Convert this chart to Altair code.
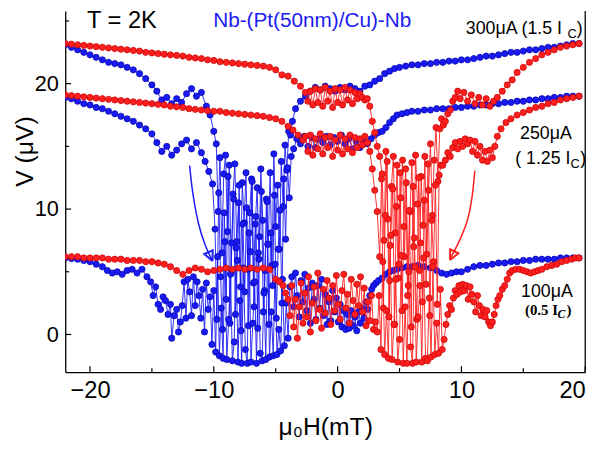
import altair as alt
import pandas as pd

# ---------------- data ----------------
# field (mT) and voltage (uV); blue and red are the two sweep directions
B300_X = [-22, -21.5, -21, -20.5, -20, -19.5, -19, -18.5, -18, -17.5, -17, -16.5, -16, -15.5, -15,
          -14.6, -14.2, -13.8, -13.4, -13.0, -12.6, -12.2, -11.8, -11.4, -11.0, -10.6, -10.3, -10.0,
          -9.8, -9.65, -9.5, -9.35, -9.2, -9.05, -8.9, -8.75, -8.6, -8.45, -8.3, -8.15, -8.0, -7.85,
          -7.7, -7.55, -7.4, -7.25, -7.1, -6.95, -6.8, -6.65, -6.5, -6.35, -6.2, -6.05, -5.9, -5.75,
          -5.6, -5.45, -5.3, -5.15, -5.0, -4.85, -4.7, -4.55, -4.4, -4.25, -4.1, -3.95, -3.8, -3.65,
          -3.4, -3.0, -2.6, -2.2, -1.8, -1.4, -1.0, -0.6, -0.2, 0.2, 0.6, 1.0, 1.4, 1.8, 2.2, 2.6,
          3.0, 3.4, 3.8, 4.2, 4.6, 5.0, 5.5, 6.0, 6.5, 7.0, 7.5, 8.0, 8.5, 9.0, 9.5, 10.0, 10.5,
          11.0, 11.5, 12.0, 12.5, 13.0, 13.5, 14.0, 14.5, 15.0, 15.5, 16.0, 16.5, 17.0, 17.5, 18.0,
          18.5, 19.0, 19.5]
B300_Y = [23.1, 22.9, 22.7, 22.5, 22.3, 22.1, 21.9, 21.7, 21.6, 21.5, 21.3, 21.1, 20.8, 20.4, 19.9,
          19.4, 18.7, 18.9, 18.4, 18.8, 18.5, 19.2, 19.6, 19.0, 19.3, 18.2, 17.5, 16.2,
          15.2, 9.8, 14.1, 6.5, 12.8, 14.3, 8.2, 13.5, 4.9, 11.2, 13.6, 7.4, 10.5, 3.8,
          12.1, 8.9, 12.9, 5.2, 9.7, 12.4, 4.1, 8.8, 11.7, 6.0, 13.2, 9.1, 3.5, 10.8,
          7.2, 12.9, 5.5, 14.4, 8.6, 11.9, 6.8, 13.8, 10.2, 15.1, 13.1, 16.2, 15.9, 17.0,
          18.0, 18.6, 19.0, 19.4, 19.7, 19.5, 19.8, 19.6, 19.4, 19.7, 19.5, 19.8, 19.6, 19.4, 19.8, 19.9,
          20.2, 20.4, 20.8, 21.0, 21.2, 21.3, 21.4, 21.5, 21.5, 21.6, 21.6, 21.7, 21.7, 21.8, 21.8, 21.9, 21.9,
          22.0, 22.1, 22.2, 22.2, 22.3, 22.4, 22.5, 22.5, 22.6, 22.7, 22.7, 22.8, 22.9, 22.9, 23.0,
          23.1, 23.2, 23.2]

B250_X = [-22, -21.5, -21, -20.5, -20, -19.5, -19, -18.5, -18, -17.5, -17, -16.5, -16, -15.5, -15,
          -14.6, -14.2, -13.8, -13.4, -13.0, -12.6, -12.2, -11.8, -11.4, -11.0, -10.7, -10.4, -10.1,
          -9.9, -9.75, -9.6, -9.45, -9.3, -9.15, -9.0, -8.85, -8.7, -8.55, -8.4, -8.25, -8.1, -7.95,
          -7.8, -7.65, -7.5, -7.35, -7.2, -7.05, -6.9, -6.75, -6.6, -6.45, -6.3, -6.15, -6.0, -5.85,
          -5.7, -5.55, -5.4, -5.25, -5.1, -4.95, -4.8, -4.65, -4.5, -4.35, -4.2, -4.05, -3.9, -3.75,
          -3.55, -3.3, -3.0, -2.7, -2.4, -2.1, -1.8, -1.5, -1.2, -0.9, -0.6, -0.3, 0.0, 0.3, 0.6, 0.9,
          1.2, 1.5, 1.8, 2.1, 2.4, 2.7, 3.0, 3.3, 3.6, 3.9, 4.2, 4.5, 4.8, 5.2, 5.6, 6.0, 6.5, 7.0,
          7.5, 8.0, 8.5, 9.0, 9.5, 10.0, 10.5, 11.0, 11.5, 12.0, 12.5, 13.0, 13.5, 14.0, 14.5, 15.0,
          15.5, 16.0, 16.5, 17.0, 17.5, 18.0, 18.5, 19.0, 19.5]
B250_Y = [18.9, 18.8, 18.6, 18.4, 18.3, 18.1, 18.0, 17.8, 17.6, 17.4, 17.2, 17.0, 16.7, 16.4, 16.0,
          15.3, 14.6, 15.0, 14.3, 14.7, 15.2, 15.5, 14.8, 15.3, 14.5, 13.8, 13.0, 12.0,
          8.4, 1.2, 11.3, 4.6, 0.4, 9.7, 2.8, 12.6, 0.9, 7.3, 10.8, 1.6, 5.9, 11.9,
          0.3, 8.8, 3.4, 10.1, 0.7, 6.6, 12.2, 2.2, 9.4, 0.5, 7.8, 11.4, 1.8, 5.1,
          10.6, 0.8, 8.1, 3.9, 11.1, 1.3, 6.8, 9.9, 2.5, 12.4, 7.6, 13.3, 10.9, 14.2,
          14.8, 15.6, 15.2, 15.8, 15.0, 15.7, 14.9, 15.6, 15.3, 15.8, 15.1, 15.7, 15.4, 15.9, 15.2, 15.6,
          14.8, 15.4, 14.9, 15.5, 15.2, 15.6, 15.9, 16.1, 16.2, 16.5, 16.9, 17.2, 17.5, 17.6, 17.7, 17.8,
          17.8, 17.9, 17.9, 18.0, 18.0, 18.0, 18.1, 18.1, 18.2, 18.2, 18.3, 18.3, 18.4, 18.4, 18.5, 18.5,
          18.6, 18.6, 18.7, 18.7, 18.8, 18.8, 18.9, 18.9, 19.0, 19.0, 19.0]

B100_X = [-22, -21.5, -21, -20.5, -20, -19.5, -19, -18.6, -18.2, -17.8, -17.4, -17.0, -16.6, -16.2,
          -15.8, -15.4, -15.1, -14.9, -14.7, -14.5, -14.3, -14.1, -13.9, -13.7, -13.5, -13.4, -13.2,
          -13.0, -12.85, -12.7, -12.55, -12.4, -12.25, -12.1, -11.95, -11.8, -11.65, -11.5, -11.35,
          -11.2, -11.05, -10.9, -10.75, -10.6, -10.45, -10.3,
          -10.15, -10.0, -9.85, -9.7, -9.55, -9.4, -9.25, -9.1, -8.95, -8.8, -8.65, -8.5, -8.35,
          -8.2, -8.05, -7.9, -7.75, -7.6, -7.45, -7.3, -7.15, -7.0, -6.85, -6.7, -6.55, -6.4, -6.25,
          -6.1, -5.95, -5.8, -5.65, -5.5, -5.35, -5.2, -5.05, -4.9, -4.75, -4.6, -4.45, -4.3, -4.15,
          -4.0, -3.85,
          -3.7, -3.55, -3.4, -3.25, -3.1, -2.95, -2.8, -2.65, -2.5, -2.35, -2.2, -2.05, -1.9, -1.75,
          -1.6, -1.45, -1.3, -1.15, -1.0, -0.85, -0.7, -0.55, -0.4, -0.25, -0.1, 0.05, 0.2, 0.35,
          0.5, 0.65, 0.8, 0.95, 1.1, 1.25, 1.4, 1.55, 1.7, 1.85, 2.0, 2.15, 2.3, 2.45, 2.6, 2.75,
          2.9, 3.1, 3.3, 3.6, 3.9, 4.2, 4.5, 4.8, 5.2, 5.6, 6.0, 6.5, 7.0, 7.5, 8.0, 8.4, 8.8, 9.2,
          9.6, 10.0, 10.5, 11.0, 11.5, 12.0, 12.5, 13.0, 13.5, 14.0, 14.5, 15.0, 15.5, 16.0, 16.5,
          17.0, 17.5, 18.0, 18.5, 19.0, 19.5]
B100_Y = [6.1, 6.05, 6.0, 5.9, 5.8, 5.6, 5.4, 5.1, 4.9, 5.0, 4.8, 5.1, 5.2, 4.9,
          5.2, 4.6, 4.2, 3.1, 3.8, 2.4, 2.0, 3.0, 2.7, 1.6, 2.4, -0.3, 1.5,
          2.0, 0.2, 1.0, 2.3, 4.2, 1.3, 4.4, 3.4, 1.5, 4.6, 2.3, 4.2,
          3.1, 1.3, 3.6, 0.2, 4.1, 2.0, 3.0,
          -0.8, 3.5, -1.4, 6.2, -1.7, 2.1, -1.9, 7.4, -2.0, 1.2, 4.8, -2.1, -0.6,
          6.9, -2.2, 2.7, -2.3, 5.3, -1.2, -2.3, 8.1, -2.2, 0.9, 4.2, -2.3, 6.5, -1.5,
          -2.1, 3.3, -2.0, 7.2, -1.8, 1.8, -1.7, 5.6, -1.6, 0.4, -1.3, 4.4, -0.9, 2.5,
          -0.3, 3.8,
          4.6, 2.2, 4.9, 3.1, 1.4, 4.3, 2.6, 4.8, 1.9, 3.7, 0.9, 4.1, 2.8, 1.2,
          3.9, 2.1, 4.4, 1.5, 3.2, 0.8, 2.6, 1.1, 3.5, 1.8, 2.9, 1.0, 2.4, 0.6,
          1.9, 0.4, 1.6, 0.5, 1.9, 0.7, 1.4, 0.3, 1.8, 0.9, 2.1, 1.3, 2.6, 2.0, 3.1, 3.6,
          3.9, 4.1, 4.3, 4.5, 4.8, 5.0, 5.1, 5.2, 5.3, 5.4, 5.4, 5.5, 5.4, 5.3, 5.1, 4.9, 4.8, 4.9,
          5.0, 5.0, 5.2, 5.4, 5.5, 5.5, 5.6, 5.7, 5.7, 5.8, 5.8, 5.9, 5.9, 6.0, 6.0,
          6.0, 6.0, 6.1, 6.1, 6.1, 6.1]

R300_X = [-22, -21.5, -21, -20.5, -20, -19.5, -19, -18.5, -18, -17.5, -17, -16.5, -16, -15.5, -15,
          -14.5, -14, -13.5, -13, -12.5, -12, -11.5, -11, -10.5, -10, -9.5, -9, -8.5, -8, -7.5,
          -7, -6.5, -6, -5.5, -5, -4.5, -4, -3.5, -3,
          -2.6, -2.4, -2.2, -2.0, -1.8, -1.6, -1.4, -1.2, -1.0, -0.8, -0.6, -0.4, -0.2, 0.0, 0.2,
          0.4, 0.6, 0.8, 1.0, 1.2, 1.4, 1.6, 1.8, 2.0, 2.2, 2.4, 2.6, 2.8, 3.0, 3.2, 3.4,
          3.6, 3.75, 3.9, 4.05, 4.2, 4.35, 4.5, 4.65, 4.8, 4.95, 5.1, 5.25, 5.4, 5.55, 5.7, 5.85,
          6.0, 6.15, 6.3, 6.45, 6.6, 6.75, 6.9, 7.05, 7.2, 7.35, 7.5, 7.65, 7.8, 7.95, 8.1, 8.25,
          8.4, 8.55,
          8.7, 8.9, 9.1, 9.3, 9.5, 9.7, 9.9, 10.2, 10.5, 10.8, 11.1, 11.4, 11.7, 12.0, 12.3, 12.6,
          12.9, 13.3, 13.7, 14.1, 14.5, 15.0, 15.5, 16.0, 16.5, 17.0, 17.5, 18.0, 18.5, 19.0, 19.5]
R300_Y = [23.2, 23.15, 23.1, 23.05, 23.0, 22.95, 22.9, 22.85, 22.8, 22.75, 22.7, 22.65, 22.6, 22.5, 22.45,
          22.4, 22.35, 22.3, 22.25, 22.2, 22.1, 22.05, 22.0, 21.9, 21.85, 21.75, 21.7, 21.65, 21.6, 21.55,
          21.5, 21.45, 21.4, 21.3, 21.1, 20.7, 20.6, 20.2, 19.8,
          19.3, 18.6, 19.4, 18.3, 19.6, 18.5, 19.5, 18.2, 19.7, 18.6, 19.4, 18.1, 19.6, 18.5, 19.5,
          18.3, 19.7, 18.7, 19.5, 18.4, 19.3, 18.8, 19.2, 18.9, 18.7, 18.8, 18.2, 17.0, 16.1, 15.0, 14.2,
          12.8, 7.5, 14.6, 9.2, 4.3, 11.8, 14.2, 8.1, 13.5, 5.6, 10.9, 13.9, 6.2, 12.1, 3.9, 9.8,
          13.7, 7.0, 14.3, 10.4, 5.1, 12.6, 8.7, 14.2, 6.4, 11.5, 15.2, 9.5, 13.9, 16.5, 12.2, 16.4,
          17.2, 16.7,
          17.0, 17.6, 17.9, 18.6, 18.9, 19.4, 18.8, 19.3, 18.6, 19.1, 18.4, 18.9, 18.3, 18.8, 18.2, 18.6,
          18.9, 19.4, 19.9, 20.3, 20.9, 21.3, 21.7, 22.0, 22.3, 22.5, 22.7, 22.9, 23.0, 23.1, 23.2]

R250_X = [-22, -21.5, -21, -20.5, -20, -19.5, -19, -18.5, -18, -17.5, -17, -16.5, -16, -15.5, -15,
          -14.5, -14, -13.5, -13, -12.5, -12, -11.5, -11, -10.5, -10, -9.5, -9, -8.5, -8, -7.5,
          -7, -6.5, -6, -5.5, -5, -4.5, -4, -3.6, -3.2, -2.8,
          -2.6, -2.4, -2.2, -2.0, -1.8, -1.6, -1.4, -1.2, -1.0, -0.8, -0.6, -0.4, -0.2, 0.0, 0.2,
          0.4, 0.6, 0.8, 1.0, 1.2, 1.4, 1.6, 1.8, 2.0, 2.2, 2.4, 2.6, 2.8, 3.0, 3.2,
          3.4, 3.55, 3.7, 3.85, 4.0, 4.15, 4.3, 4.45, 4.6, 4.75, 4.9, 5.05, 5.2, 5.35, 5.5, 5.65,
          5.8, 5.95, 6.1, 6.25, 6.4, 6.55, 6.7, 6.85, 7.0, 7.15, 7.3, 7.45, 7.6, 7.75, 7.9, 8.05,
          8.2, 8.35,
          8.5, 8.7, 8.9, 9.1, 9.3, 9.5, 9.7, 9.9, 10.1, 10.3, 10.5, 10.7, 10.9, 11.1, 11.3, 11.5,
          11.7, 11.9, 12.1, 12.3, 12.5, 12.7, 12.9, 13.2, 13.6, 14.0, 14.5, 15.0, 15.5, 16.0, 16.5,
          17.0, 17.5, 18.0, 18.5, 19.0, 19.5]
R250_Y = [19.1, 19.05, 19.0, 18.95, 18.9, 18.85, 18.8, 18.75, 18.7, 18.65, 18.6, 18.55, 18.5, 18.45, 18.4,
          18.35, 18.3, 18.2, 18.15, 18.1, 18.0, 17.95, 17.9, 17.85, 17.8, 17.8, 17.7, 17.65, 17.6, 17.55,
          17.5, 17.45, 17.4, 17.3, 17.2, 17.0, 16.6, 16.3, 15.9, 15.5,
          15.8, 14.6, 15.9, 14.3, 15.6, 14.8, 16.0, 14.4, 15.7, 14.9, 15.8, 14.2, 15.5, 14.7, 15.9,
          14.4, 15.6, 14.8, 15.9, 14.5, 15.7, 14.9, 15.6, 15.1, 15.8, 15.3, 14.6, 13.2, 11.5, 9.8,
          6.2, 12.4, 2.1, 9.5, 13.8, 1.4, 7.9, 11.6, 0.8, 10.2, 4.5, 12.9, 1.9, 8.6, 13.2, 3.1,
          9.9, 0.6, 11.8, 5.4, 1.2, 12.5, 7.3, 2.6, 10.7, 4.0, 13.6, 1.5, 9.1, 5.8, 11.9, 2.4,
          12.7, 13.5,
          13.5, 13.9, 14.5, 14.2, 14.9, 15.3, 14.8, 15.4, 15.0, 15.6, 15.2, 15.5, 14.6, 15.4, 14.3, 15.0,
          13.9, 14.6, 13.8, 14.7, 14.1, 15.0, 15.8, 16.4, 16.9, 17.2, 17.5, 17.7, 17.9, 18.1, 18.2,
          18.4, 18.5, 18.7, 18.8, 18.9, 19.0]

R100_X = [-22, -21.5, -21, -20.5, -20, -19.5, -19, -18.5, -18, -17.5, -17, -16.5, -16, -15.5, -15,
          -14.5, -14, -13.5, -13, -12.5, -12, -11.5, -11, -10.5, -10, -9.5, -9, -8.5, -8, -7.5,
          -7, -6.5, -6, -5.5, -5.0, -4.7, -4.4, -4.2, -4.0,
          -3.85, -3.7, -3.55, -3.4, -3.25, -3.1, -2.95, -2.8, -2.65, -2.5, -2.35, -2.2, -2.05, -1.9,
          -1.75, -1.6, -1.45, -1.3, -1.15, -1.0, -0.85, -0.7, -0.55, -0.4, -0.25, -0.1, 0.05, 0.2,
          0.35, 0.5, 0.65, 0.8, 0.95, 1.1, 1.25, 1.4, 1.55, 1.7, 1.85, 2.0, 2.15, 2.3, 2.45, 2.6,
          2.75, 2.9, 3.05,
          3.2, 3.35, 3.5, 3.65, 3.8, 3.95, 4.1, 4.25, 4.4, 4.55, 4.7, 4.85, 5.0, 5.15, 5.3, 5.45,
          5.6, 5.75, 5.9, 6.05, 6.2, 6.35, 6.5, 6.65, 6.8, 6.95, 7.1, 7.25, 7.4, 7.55, 7.7, 7.85,
          8.0, 8.15, 8.3, 8.45, 8.6,
          8.75, 8.9, 9.05, 9.2, 9.35, 9.5, 9.65, 9.8, 9.95, 10.1, 10.25, 10.4, 10.55, 10.7, 10.85,
          11.0, 11.15, 11.3, 11.45, 11.6, 11.75, 11.9, 12.05, 12.2, 12.35, 12.5, 12.65, 12.8, 12.95,
          13.1, 13.3, 13.5, 13.7, 13.9, 14.1, 14.4, 14.7, 15.0, 15.3, 15.6, 15.9, 16.2, 16.5, 16.9,
          17.3, 17.7, 18.1, 18.5, 18.9, 19.2, 19.5]
R100_Y = [6.2, 6.2, 6.2, 6.1, 6.1, 6.1, 6.1, 6.0, 6.0, 6.0, 5.9, 5.9, 5.9, 5.8, 5.8,
          5.7, 5.6, 5.4, 5.1, 4.8, 5.1, 5.3, 5.2, 5.0, 5.1, 5.2, 5.3, 5.2, 5.3, 5.2,
          5.3, 5.2, 5.3, 5.2, 4.4, 4.2, 3.9, 3.3, 2.8,
          1.5, 3.9, 0.6, 2.8, -0.3, 2.2, 4.1, 0.9, 3.3, 1.4, 4.6, 0.2, 2.5, 3.8,
          1.1, 4.9, 2.0, 0.5, 3.6, 1.7, 4.3, 2.9, 0.8, 3.9, 1.9, 4.7, 2.4, 1.2,
          3.5, 4.8, 2.1, 3.2, 0.9, 4.4, 2.7, 1.6, 4.0, 2.3, 4.6, 1.8, 3.7, 0.7, 2.6, 1.1,
          3.1, 0.4, 1.0,
          0.2, 3.1, -1.2, 5.8, -1.6, 1.9, -1.9, 7.1, -2.0, 0.8, 4.4, -2.2, -0.4, 6.3, -2.3, 2.2,
          -2.3, 5.0, -1.0, -2.3, 7.7, -2.2, 1.4, 3.9, -2.2, 6.1, -1.9, -2.1, 2.9, -1.8, 5.4, -1.6,
          0.9, -1.5, 3.6, -1.2, -0.4,
          0.8, 1.6, 2.3, 2.0, 2.9, 3.5, 3.2, 3.9, 3.4, 4.0, 3.5, 3.9, 2.8, 3.8, 3.2,
          2.6, 1.8, 3.1, 2.3, 1.5, 2.0, 1.4, 1.9, 1.0, 0.7, 1.0, 1.6, 2.3, 2.8,
          3.1, 3.6, 3.9, 4.4, 4.9, 5.1, 5.2, 5.2, 5.1, 5.0, 4.9, 5.0, 5.1, 5.2, 5.4,
          5.5, 5.6, 5.8, 5.9, 6.0, 6.1, 6.1]

# curved arrows (field, voltage along the arrow) and their heads (tip, barb, barb, tip)
ARROW_B_X = [-11.95, -11.69, -11.24, -10.71, -10.10]
ARROW_B_Y = [13.46, 11.24, 8.87, 7.17, 5.85]
HEAD_B_X = [-10.10, -10.09, -10.77, -10.10]
HEAD_B_Y = [5.85, 6.72, 6.41, 5.85]
ARROW_R_X = [11.08, 10.86, 10.49, 9.88, 9.21, 9.08]
ARROW_R_Y = [13.07, 10.97, 9.13, 7.56, 6.24, 5.93]
HEAD_R_X = [9.08, 9.75, 9.09, 9.08]
HEAD_R_Y = [5.93, 6.47, 6.79, 5.93]

X_MAJOR = [-20, -10, 0, 10, 20]
X_MINOR = [-15, -5, 5, 15]
Y_MAJOR = [0, 10, 20]
Y_MINOR = [5, 15, 25]

BLUE, BLUE_EDGE = "#1a1af5", "#0000a8"
RED, RED_EDGE = "#ff1f1f", "#c40000"

W, H = 527, 366
X_DOM = [-22, 20]
Y_DOM = [-3.0, 25.8]
FONT = "Liberation Sans"


def curve(name, xs, ys, fill, edge):
    if len(xs) != len(ys):
        raise ValueError(f"{name}: {len(xs)} x vs {len(ys)} y")
    return pd.DataFrame({"x": xs, "y": ys, "curve": name, "fill": fill,
                         "edge": edge, "i": list(range(len(xs)))})


blue = pd.concat([curve("b300", B300_X, B300_Y, BLUE, BLUE_EDGE),
                  curve("b250", B250_X, B250_Y, BLUE, BLUE_EDGE),
                  curve("b100", B100_X, B100_Y, BLUE, BLUE_EDGE)])
red = pd.concat([curve("r300", R300_X, R300_Y, RED, RED_EDGE),
                 curve("r250", R250_X, R250_Y, RED, RED_EDGE),
                 curve("r100", R100_X, R100_Y, RED, RED_EDGE)])

xs = alt.Scale(domain=X_DOM, nice=False, zero=False)
ys = alt.Scale(domain=Y_DOM, nice=False, zero=False)

x_axis = alt.Axis(values=X_MAJOR, ticks=False, tickSize=0, grid=False, format="d",
                  labelFont=FONT, labelFontSize=24, labelColor="black", labelPadding=7,
                  domainColor="black", domainWidth=1.3,
                  title="μ₀H(mT)", titleFont=FONT, titleFontSize=25, titleFontWeight="normal",
                  titleColor="black", titlePadding=12)
y_axis = alt.Axis(values=Y_MAJOR, ticks=False, tickSize=0, grid=False, format="d",
                  labelFont=FONT, labelFontSize=22, labelColor="black", labelPadding=7,
                  domainColor="black", domainWidth=1.3,
                  title="V (μV)", titleFont=FONT, titleFontSize=25, titleFontWeight="normal",
                  titleColor="black", titleAngle=270, titleAlign="center",
                  titleBaseline="middle", titleX=-41, titleY=142)


def data_layers(df):
    base = alt.Chart(df)
    line = base.mark_line(strokeWidth=1, clip=True, opacity=0.9).encode(
        x=alt.X("x:Q", scale=xs, axis=x_axis),
        y=alt.Y("y:Q", scale=ys, axis=y_axis),
        detail="curve:N", order="i:Q",
        color=alt.Color("fill:N", scale=None))
    pts = base.mark_circle(size=40, opacity=1, strokeWidth=0.7, clip=True).encode(
        x=alt.X("x:Q", scale=xs), y=alt.Y("y:Q", scale=ys),
        fill=alt.Fill("fill:N", scale=None), stroke=alt.Stroke("edge:N", scale=None))
    return [line, pts]


def ticks(values, length, axis):
    df = pd.DataFrame({"v": values})
    if axis == "x":
        return alt.Chart(df).mark_rule(color="black", strokeWidth=1.2).encode(
            x=alt.X("v:Q", scale=xs), y=alt.value(H), y2=alt.value(H - length))
    return alt.Chart(df).mark_rule(color="black", strokeWidth=1.2).encode(
        y=alt.Y("v:Q", scale=ys), x=alt.value(0), x2=alt.value(length))


def arrow(xv, yv, hx, hy, color):
    df = pd.DataFrame({"x": xv, "y": yv, "i": list(range(len(xv)))})
    ln = alt.Chart(df).mark_line(color=color, strokeWidth=1.5, interpolate="cardinal").encode(
        x=alt.X("x:Q", scale=xs), y=alt.Y("y:Q", scale=ys), order="i:Q")
    hdf = pd.DataFrame({"x": hx, "y": hy, "i": list(range(len(hx)))})
    hd = alt.Chart(hdf).mark_line(color=color, strokeWidth=2, strokeJoin="miter").encode(
        x=alt.X("x:Q", scale=xs), y=alt.Y("y:Q", scale=ys), order="i:Q")
    return [ln, hd]


def label(text, px, py, size=18, color="black", font=FONT, weight="normal",
          baseline="alphabetic", style="normal"):
    return alt.Chart(pd.DataFrame({"t": [text]})).mark_text(
        align="left", baseline=baseline, font=font, fontSize=size, fontWeight=weight,
        fontStyle=style, color=color).encode(
        x=alt.value(px), y=alt.value(py), text="t:N")


frame_right = alt.Chart(pd.DataFrame({"a": [0]})).mark_rule(
    color="black", strokeWidth=1.3).encode(x=alt.value(W), y=alt.value(0), y2=alt.value(H))

layers = (data_layers(blue) + data_layers(red)
          + arrow(ARROW_B_X, ARROW_B_Y, HEAD_B_X, HEAD_B_Y, BLUE)
          + arrow(ARROW_R_X, ARROW_R_Y, HEAD_R_X, HEAD_R_Y, RED)
          + [ticks(X_MAJOR, 6, "x"), ticks(X_MINOR, 4, "x"),
             ticks(Y_MAJOR, 6, "y"), ticks(Y_MINOR, 4, "y"), frame_right,
             label("T = 2K", 22, 10, size=24, baseline="middle"),
             label("Nb-(Pt(50nm)/Cu)-Nb", 150, 10, size=21, color="#1c1cf0", baseline="middle"),
             label("300μA (1.5 I", 406, 23.5), label("C", 509, 27.5, size=13), label(")", 518.5, 23.5),
             label("250μA", 461, 129.5),
             label("( 1.25 I", 456, 155.5), label("C", 512, 159.5, size=13), label(")", 522, 155.5),
             label("100μA", 462, 289.5),
             label("(0.5 I", 466, 308.5, size=15, font="Liberation Serif", weight="bold"),
             label("C", 499, 311.5, size=12, font="Liberation Serif", weight="bold", style="italic"),
             label(")", 508, 308.5, size=15, font="Liberation Serif", weight="bold")])

chart = alt.layer(*layers).properties(
    width=W, height=H,
    autosize=alt.AutoSizeParams(type="none"),
    padding={"left": 58, "top": 0, "right": 17, "bottom": 76},
).configure_view(stroke=None)

chart.save("out.html", embed_options={"renderer": "svg", "actions": False})
